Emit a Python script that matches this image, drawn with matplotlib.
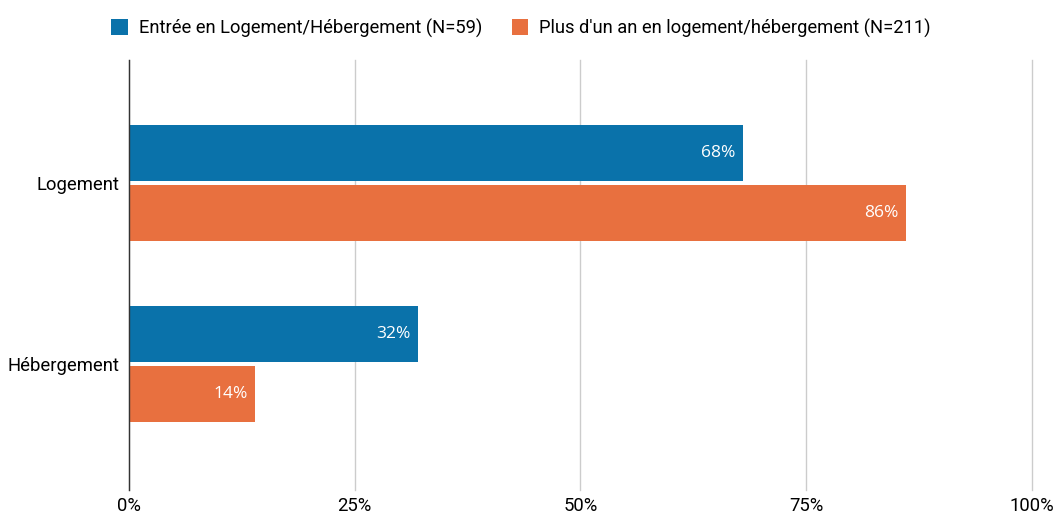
import matplotlib
matplotlib.use("Agg")
import matplotlib.pyplot as plt
import numpy as np

categories = ["Logement", "Hébergement"]
series_names = ["Entrée en Logement/Hébergement (N=59)",
                "Plus d'un an en logement/hébergement (N=211)"]
entree = [68, 32]
plus_un_an = [86, 14]
xticks = [0, 25, 50, 75, 100]
xtick_labels = ["0%", "25%", "50%", "75%", "100%"]

colors = ["#0a72aa", "#e8703f"]

plt.rcParams['font.family'] = ['Roboto', 'DejaVu Sans']

fig = plt.figure(figsize=(10.57, 5.15), dpi=100)
ax = fig.add_axes([0.122, 0.0485, 0.8543, 0.835])

y = np.arange(len(categories))
h = 0.31
gap = 0.011
bars1 = ax.barh(y - h / 2 - gap, entree, height=h, color=colors[0], label=series_names[0])
bars2 = ax.barh(y + h / 2 + gap, plus_un_an, height=h, color=colors[1], label=series_names[1])

for bars, vals in [(bars1, entree), (bars2, plus_un_an)]:
    for b, v in zip(bars, vals):
        ax.text(b.get_width() - 0.8, b.get_y() + b.get_height() / 2, f"{v}%",
                ha="right", va="center", color="white", fontsize=12.5,
                family=["Open Sans", "DejaVu Sans"])

ax.set_xlim(0, 100)
ax.set_ylim(1.70, -0.68)
ax.set_yticks(y)
ax.set_yticklabels(categories, fontsize=13.3)
ax.set_xticks(xticks)
ax.set_xticklabels(xtick_labels, fontsize=13.3)
ax.tick_params(axis="x", length=0, pad=5)
ax.tick_params(axis="y", length=0, pad=7)
ax.xaxis.grid(True, color="#cccccc", linewidth=1)
for gl in ax.get_xgridlines():
    gl.set_clip_on(False)
ax.set_axisbelow(True)
for s in ["top", "right", "bottom"]:
    ax.spines[s].set_visible(False)
ax.spines["left"].set_color("#333333")
ax.spines["left"].set_linewidth(1)

ax.legend(loc="center", bbox_to_anchor=(521 / 1057, 1 - 28 / 515),
          bbox_transform=fig.transFigure, ncol=2, frameon=False,
          fontsize=13.2, handlelength=0.9, handleheight=0.9, columnspacing=1.6,
          handletextpad=0.6)

fig.savefig("out.png", dpi=100)
